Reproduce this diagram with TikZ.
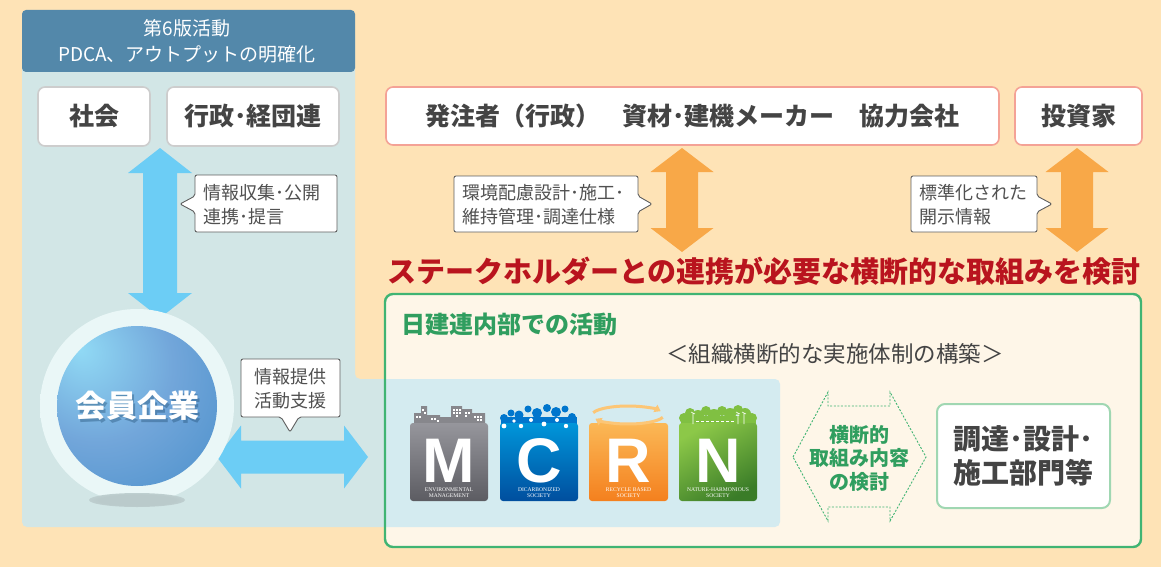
\documentclass[tikz,border=0pt]{standalone}
\usepackage{fontspec}
\setmainfont{Noto Sans CJK JP}
\newfontfamily\logofont{Liberation Sans}
\newfontfamily\capfont{Liberation Serif}
\usetikzlibrary{arrows.meta}

\definecolor{pagebg}{RGB}{254,227,182}
\definecolor{panel}{RGB}{210,230,230}
\definecolor{panelover}{RGB}{212,235,240}
\definecolor{headbg}{RGB}{83,136,170}
\definecolor{boxline}{RGB}{205,205,205}
\definecolor{txtgray}{RGB}{68,68,68}
\definecolor{calltxt}{RGB}{80,80,80}
\definecolor{callline}{RGB}{95,95,95}
\definecolor{bluearrow}{RGB}{108,205,245}
\definecolor{orangearrow}{RGB}{248,168,72}
\definecolor{pinkline}{RGB}{244,162,150}
\definecolor{cream}{RGB}{254,246,232}
\definecolor{gborder}{RGB}{64,180,115}
\definecolor{gtext}{RGB}{48,158,95}
\definecolor{lightgline}{RGB}{160,215,178}
\definecolor{redtitle}{RGB}{185,20,30}
\definecolor{ballA}{RGB}{145,218,245}
\definecolor{ballB}{RGB}{114,166,218}
\definecolor{ballC}{RGB}{58,134,196}
\definecolor{glowc}{RGB}{234,247,247}
\definecolor{shadowc}{RGB}{186,202,203}
\definecolor{mgrayA}{RGB}{150,150,156}
\definecolor{mgrayB}{RGB}{92,92,98}
\definecolor{skyc}{RGB}{135,135,140}
\definecolor{cblueA}{RGB}{0,150,218}
\definecolor{cblueB}{RGB}{0,78,158}
\definecolor{bubblec}{RGB}{0,118,205}
\definecolor{rorgA}{RGB}{251,184,86}
\definecolor{rorgB}{RGB}{244,128,30}
\definecolor{rarc}{RGB}{252,198,118}
\definecolor{ngrnA}{RGB}{140,200,72}
\definecolor{ngrnB}{RGB}{58,124,40}
\definecolor{treec}{RGB}{128,192,66}

% sphere, its halo and its floor shadow
\pgfdeclareradialshading{kaiinball}{\pgfpoint{-18bp}{18bp}}{%
  color(0bp)=(ballA); color(24bp)=(ballB); color(58bp)=(ballC); color(80bp)=(ballC)}
\pgfdeclareradialshading{kaiinglow}{\pgfpoint{0bp}{0bp}}{%
  color(0bp)=(glowc); color(40bp)=(glowc); color(50bp)=(panel)}
\pgfdeclareradialshading{kaiinshadow}{\pgfpoint{0bp}{0bp}}{%
  color(0bp)=(shadowc); color(20bp)=(shadowc); color(50bp)=(panel)}

% fat vertical double arrow: colour, x, top y, bottom y, head length, half head, half shaft
\newcommand{\fatVArrow}[7]{%
  \fill[#1] (#2,#3) -- ({#2+#6},{#3+#5}) -- ({#2+#7},{#3+#5}) -- ({#2+#7},{#4-#5})
    -- ({#2+#6},{#4-#5}) -- (#2,#4) -- ({#2-#6},{#4-#5}) -- ({#2-#7},{#4-#5})
    -- ({#2-#7},{#3+#5}) -- ({#2-#6},{#3+#5}) -- cycle;}
% fat horizontal double arrow: colour, y, left x, right x, head length, half head, half shaft
\newcommand{\fatHArrow}[7]{%
  \fill[#1] (#3,#2) -- ({#3+#5},{#2-#6}) -- ({#3+#5},{#2-#7}) -- ({#4-#5},{#2-#7})
    -- ({#4-#5},{#2-#6}) -- (#4,#2) -- ({#4-#5},{#2+#6}) -- ({#4-#5},{#2+#7})
    -- ({#3+#5},{#2+#7}) -- ({#3+#5},{#2+#6}) -- cycle;}

\begin{document}
\begin{tikzpicture}[x=1pt,y=-1pt,
  wbox/.style={draw=boxline, line width=1.6pt, fill=white, rounded corners=7pt,
    inner sep=0pt, font=\bfseries\fontsize{25}{30}\selectfont, text=txtgray},
  pbox/.style={wbox, draw=pinkline, font=\bfseries\fontsize{25}{30}\selectfont},
  callout/.style={draw=callline, line width=0.9pt, fill=white, rounded corners=2pt},
  ctext/.style={font=\fontsize{18}{24}\selectfont, text=calltxt, inner sep=0pt},
  logoletter/.style={font=\logofont\bfseries\fontsize{63}{63}\selectfont, text=white,
    inner sep=0pt, text depth=0pt},
  logocap/.style={font=\capfont\fontsize{5.6}{6.2}\selectfont, text=white, align=center, inner sep=0pt},
  gdash/.style={draw=gborder, line width=0.9pt, dash pattern=on 2pt off 1.6pt},
]
\useasboundingbox (0,0) rectangle (1161,567);
\fill[pagebg] (0,0) rectangle (1161,567);

% ---------- left panel (L shaped) with its header ----------
\fill[panel, rounded corners=5pt] (22,30) -- (355,30) -- (355,379) -- (780,379)
  -- (780,527) -- (22,527) -- cycle;
\fill[headbg, rounded corners=4pt] (22,10) rectangle (355,72);
\node[font=\fontsize{19}{26}\selectfont, text=white, align=center] (head) at (187,41)
  {第6版活動\\PDCA、アウトプットの明確化};

% ---------- green box: internal activities ----------
\fill[cream, rounded corners=8pt] (385,294) rectangle (1141,547);
\begin{scope}
  \clip (385,0) rectangle (1161,567);
  \fill[panelover, rounded corners=5pt] (360,379) rectangle (780,527);
\end{scope}
\draw[gborder, line width=2.4pt, rounded corners=8pt] (385,294) rectangle (1141,547);

% ---------- stakeholder boxes ----------
\node[wbox, minimum width=112pt, minimum height=59pt] (shakai) at (94,116.5) {社会};
\node[wbox, minimum width=172pt, minimum height=59pt] (gyosei) at (253,116.5) {行政･経団連};
\node[pbox, minimum width=613pt, minimum height=58pt] (hacchu) at (692.5,116)
  {発注者（行政）\hspace{0.9em}資材･建機メーカー\hspace{1em}協力会社};
\node[pbox, minimum width=127pt, minimum height=58pt] (toshika) at (1078.5,116) {投資家};

% ---------- fat arrows ----------
\fatVArrow{bluearrow}{160}{148}{318}{25}{32}{17}
\fatHArrow{bluearrow}{457}{217}{368}{24}{31.5}{16.5}
\fatVArrow{orangearrow}{682}{148}{252}{24}{31.5}{16}
\fatVArrow{orangearrow}{1077}{148}{252}{24}{31.5}{16}

% ---------- callouts ----------
\draw[callout] (195,175) -- (337,175) -- (337,232) -- (195,232) -- (195,212)
  -- (180,204) -- (195,196) -- cycle;
\node[ctext, anchor=west, align=left] (c1) at (203,205) {情報収集･公開\\連携･提言};

\draw[callout] (241,359) -- (340,359) -- (340,417) -- (299,417) -- (290,432)
  -- (281,417) -- (241,417) -- cycle;
\node[ctext, align=center] (c2) at (290.5,388.5) {情報提供\\活動支援};

\draw[callout] (454,176) -- (638,176) -- (638,196) -- (652,204) -- (638,212)
  -- (638,232) -- (454,232) -- cycle;
\node[ctext, anchor=west, align=left] (c3) at (462,205) {環境配慮設計･施工･\\維持管理･調達仕様};

\draw[callout] (911,176) -- (1037,176) -- (1037,196) -- (1052,204) -- (1037,212)
  -- (1037,232) -- (911,232) -- cycle;
\node[ctext, anchor=west, align=left] (c4) at (919,205) {標準化された\\開示情報};

% ---------- red headline ----------
\node[font=\bfseries\fontsize{29}{32}\selectfont, text=redtitle, inner sep=0pt] (stake)
  at (764,271) {ステークホルダーとの連携が必要な横断的な取組みを検討};

% ---------- green box titles ----------
\node[font=\bfseries\fontsize{24}{28}\selectfont, text=gtext, anchor=west, inner sep=0pt]
  (naibu) at (401,324) {日建連内部での活動};
\node[font=\fontsize{22.5}{26}\selectfont, text=txtgray, inner sep=0pt] (kouchiku)
  at (835,354) {＜組織横断的な実施体制の構築＞};

% ---------- member companies sphere ----------
\shade[shading=kaiinglow] (137,406) circle (97);
\shade[shading=kaiinshadow] (137,500) ellipse (48 and 7);
\shade[shading=kaiinball] (137,406) circle (80);
\node[font=\bfseries\fontsize{31}{34}\selectfont, text=ballC!60!black, opacity=0.4]
  at (139.5,409) {会員企業};
\node[circle, minimum size=160pt, inner sep=0pt, font=\bfseries\fontsize{31}{34}\selectfont,
  text=white] (kaiin) at (137,406) {会員企業};

% ---------- MCRN logo tiles ----------
% M : environmental management
\fill[skyc] (414,424) -- (414,413) -- (421,413) -- (421,406) -- (427,406) -- (427,415)
  -- (440,415) -- (440,417) -- (451,417) -- (451,406) -- (462,406) -- (462,409)
  -- (472,409) -- (472,413) -- (485,413) -- (485,424) -- cycle;
\foreach \wx/\wy in {416/416,419/416,422/409,424/412,431/418,434/418,437/420,
  453/409,456/409,459/409,453/412,456/412,459/412,456/415,465/412,468/412,
  465/415,474/416,477/416,480/416,477/419,480/419}
  \fill[white] (\wx,\wy) rectangle ++(1.8,1.8);
\shade[top color=mgrayA, bottom color=mgrayB, rounded corners=3pt] (410,423) rectangle (488,501);
% C : decarbonized society
\foreach \bx/\by/\br in {504/418/4,511/413/3.5,519/415/4.5,528/409/3.5,537/413/5,
  547/408/4,556/412/5,565/409/3.5,572/417/4}
  \fill[bubblec] (\bx,\by) circle (\br);
\fill[bubblec] (501,417) rectangle (577,424);
\shade[top color=cblueA, bottom color=cblueB, rounded corners=3pt] (500,423) rectangle (578,501);
\foreach \bx/\by/\br in {504/426/2.4,514/421/1.8,521/426/2.2,531/420/2,544/424/2.4,
  557/420/2,566/426/2.2}
  \fill[white] (\bx,\by) circle (\br);
% R : recycle based society
\shade[top color=rorgA, bottom color=rorgB, rounded corners=3pt] (589,423) rectangle (668,501);
\draw[rarc, line width=3pt, -{Triangle[length=6pt,width=8pt]}]
  (628,415) ++(195:36 and 9) arc[start angle=195, end angle=335, x radius=36, y radius=9];
\draw[rarc, line width=3pt, -{Triangle[length=6pt,width=8pt]}]
  (628,415) ++(15:36 and 9) arc[start angle=15, end angle=155, x radius=36, y radius=9];
% N : nature-harmonious society
\foreach \tx/\ty/\tr in {684/418/5,690/413/5,698/416/6,706/411/5,714/415/6,722/411/5,
  730/414/6,738/410/5,745/414/6,752/418/5}
  \fill[treec] (\tx,\ty) circle (\tr);
\fill[treec] (681,416) rectangle (756,424);
\shade[top color=ngrnA, bottom color=ngrnB, shading angle=30, rounded corners=3pt]
  (679,423) rectangle (757,501);
\foreach \px in {693,738,744}
  \draw[white, line width=0.6pt] (\px,424) -- (\px,413) (\px-2,412) -- (\px+2,414);
\draw[white, line width=0.5pt, densely dashed] (696,421) -- (735,421);

% logo letters and captions
\node[logoletter, anchor=base] (lgM) at (449,482) {M};
\node[logoletter, anchor=base] (lgC) at (539,482) {C};
\node[logoletter, anchor=base] (lgR) at (628.5,482) {R};
\node[logoletter, anchor=base] (lgN) at (718,482) {N};
\node[logocap] (capM) at (449,493) {ENVIRONMENTAL\\MANAGEMENT};
\node[logocap] (capC) at (539,493) {DICARBONIZED\\SOCIETY};
\node[logocap] (capR) at (628.5,493) {RECYCLE BASED\\SOCIETY};
\node[logocap] (capN) at (718,493) {NATURE-HARMONIOUS\\SOCIETY};

% ---------- cross-departmental dashed double arrow ----------
\draw[gdash] (793,457) -- (828,392) -- (828,406) -- (890,406) -- (890,392) -- (926,457)
  -- (890,521) -- (890,507) -- (828,507) -- (828,521) -- cycle;
\node[font=\bfseries\fontsize{20}{23.5}\selectfont, text=gtext, align=center, inner sep=0pt]
  (oudan) at (859.5,458) {横断的\\取組み内容\\の検討};

% ---------- procurement / design / construction ----------
\node[wbox, draw=lightgline, line width=2pt, rounded corners=8pt, minimum width=173pt,
  minimum height=104pt, align=center, font=\bfseries\fontsize{28}{34}\selectfont]
  (chotatsu) at (1023.5,456) {調達･設計･\\施工部門等};

\end{tikzpicture}
\end{document}
